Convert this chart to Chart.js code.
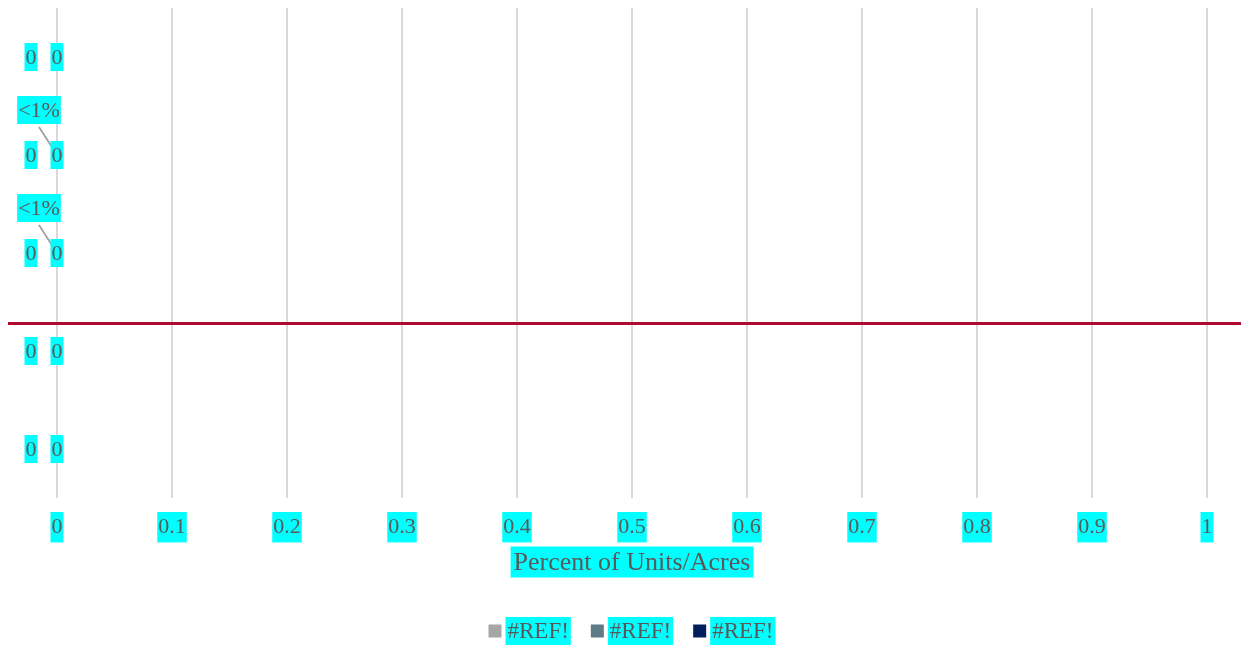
<!DOCTYPE html>
<html>
<head>
<meta charset="utf-8">
<script src="https://cdn.jsdelivr.net/npm/chart.js@4.4.0/dist/chart.umd.min.js"></script>
<style>
  html, body { margin: 0; padding: 0; background: #fff; }
  #wrap { width: 1241px; height: 645px; }
</style>
</head>
<body>
<div id="wrap"><canvas id="chart"></canvas></div>
<script>
// data
const categories = ['Row 1', 'Row 2', 'Row 3', 'Row 4', 'Row 5'];
const seriesNames = ['#REF!', '#REF!', '#REF!'];
const seriesA = [0, 0, 0, 0, 0];
const seriesB = [0, 0, 0, 0, 0];
const seriesC = [0, 0, 0, 0, 0];
const calloutLabels = ['', '<1%', '<1%', '', ''];
const xTickLabels = ['0', '0.1', '0.2', '0.3', '0.4', '0.5', '0.6', '0.7', '0.8', '0.9', '1'];
const axisTitle = 'Percent of Units/Acres';
const dividerAt = 2.72; // category position of the red divider

const colors = ['#a6a6a6', '#5f7b86', '#001f5b'];
const TEXT = '#595959';
const HILITE = '#00ffff';
const FAMILY = '"Liberation Serif", "DejaVu Serif", serif';

function boxText(ctx, text, cx, cy, size, padX, h) {
    ctx.font = size + 'px ' + FAMILY;
    const w = ctx.measureText(text).width + padX * 2;
    ctx.fillStyle = HILITE;
    ctx.fillRect(cx - w / 2, cy - h / 2, w, h);
    ctx.fillStyle = TEXT;
    ctx.textAlign = 'center';
    ctx.textBaseline = 'middle';
    ctx.fillText(text, cx, cy + 1);
    return w;
}

const extras = {
    id: 'extras',
    afterDatasetsDraw(chart) {
        const ctx = chart.ctx;
        const xs = chart.scales.x, ys = chart.scales.y;
        ctx.save();

        // red divider
        const yd = ys.getPixelForValue(dividerAt);
        ctx.strokeStyle = '#b00a30';
        ctx.lineWidth = 3;
        ctx.beginPath();
        ctx.moveTo(chart.chartArea.left - 49, yd);
        ctx.lineTo(chart.width, yd);
        ctx.stroke();

        // leader lines + callouts
        calloutLabels.forEach((t, i) => {
            if (!t) return;
            const x0 = xs.getPixelForValue(seriesC[i]);
            const y0 = ys.getPixelForValue(i);
            ctx.strokeStyle = '#a0a0a0';
            ctx.lineWidth = 1.75;
            ctx.beginPath();
            ctx.moveTo(x0 - 18, y0 - 28);
            ctx.lineTo(x0, y0);
            ctx.stroke();
            boxText(ctx, t, x0 - 18, y0 - 45, 22, 1, 28);
        });

        // value labels
        chart.data.datasets.forEach((ds, di) => {
            if (ds.labelShift === undefined) return;
            chart.getDatasetMeta(di).data.forEach((bar, i) => {
                boxText(ctx, String(ds.data[i]), bar.x + ds.labelShift, bar.y, 22, 1, 28);
            });
        });
        ctx.restore();
    },
    afterDraw(chart) {
        const ctx = chart.ctx;
        const area = chart.chartArea;
        const cx = (area.left + area.right) / 2;
        ctx.save();
        boxText(ctx, axisTitle, cx, 562, 26, 3, 31);

        // legend
        ctx.font = '23px ' + FAMILY;
        const items = seriesNames.map(n => ctx.measureText(n).width + 4);
        const sq = 13, gap = 4, space = 20;
        const total = items.reduce((s, w) => s + sq + gap + w, 0) + space * (items.length - 1);
        let x = cx - total / 2;
        const ly = 631;
        seriesNames.forEach((n, i) => {
            ctx.fillStyle = colors[i];
            ctx.fillRect(x, ly - sq / 2, sq, sq);
            x += sq + gap;
            boxText(ctx, n, x + items[i] / 2, ly, 23, 2, 28);
            x += items[i] + space;
        });
        ctx.restore();
    }
};

new Chart(document.getElementById('chart'), {
    type: 'bar',
    data: {
        labels: categories,
        datasets: [
            { label: seriesNames[0], data: seriesA, backgroundColor: colors[0], labelShift: -26 },
            { label: seriesNames[1], data: seriesB, backgroundColor: colors[1], labelShift: 0 },
            { label: seriesNames[2], data: seriesC, backgroundColor: colors[2] }
        ]
    },
    options: {
        indexAxis: 'y',
        responsive: true,
        maintainAspectRatio: false,
        animation: false,
        layout: { padding: { left: 57, right: 34, top: 8, bottom: 0 } },
        plugins: { legend: { display: false }, tooltip: { enabled: false } },
        scales: {
            y: { stacked: true, display: false },
            x: {
                stacked: true,
                min: 0, max: 1,
                border: { display: false },
                grid: { color: '#d9d9d9', lineWidth: 2, drawTicks: false },
                afterFit: s => { s.height = 147; },
                ticks: {
                    stepSize: 0.1,
                    padding: 16,
                    color: TEXT,
                    font: { family: FAMILY, size: 22 },
                    showLabelBackdrop: true,
                    backdropColor: HILITE,
                    backdropPadding: { x: 1, y: 2 },
                    callback: (v, i) => xTickLabels[i]
                }
            }
        }
    },
    plugins: [extras]
});
</script>
</body>
</html>
